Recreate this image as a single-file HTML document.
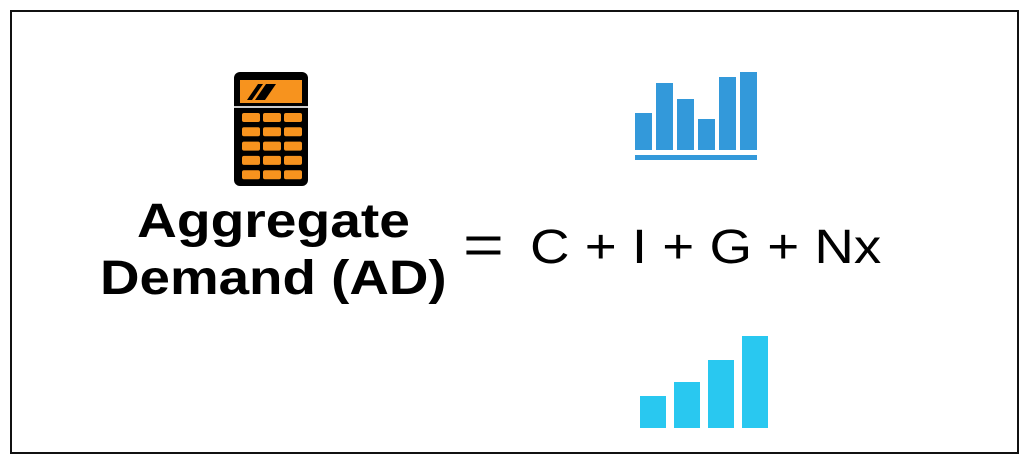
<!DOCTYPE html>
<html><head><meta charset="utf-8"><style>
body{margin:0;width:1024px;height:461px;background:#fff;position:relative;overflow:hidden;font-family:"Liberation Sans",Arial,sans-serif}
.frame{position:absolute;left:10px;top:10px;width:1005px;height:440px;border:2px solid #111}
.t{position:absolute;white-space:nowrap;color:#000;transform-origin:0 0}
</style></head><body>
<div class="frame"></div>
<svg width="1024" height="461" style="position:absolute;left:0;top:0">
<g>
<rect x="234" y="72" width="74" height="114" rx="6" fill="#000"/>
<rect x="240" y="80" width="62" height="23" fill="#f7931e"/>
<polygon points="247,100 258,84 263,84 252,100" fill="#000"/>
<polygon points="255,100 266,84 276,84 265,100" fill="#000"/>
<rect x="234" y="106" width="74" height="2" fill="#ccc"/>
<g id="keys"></g>
</g>
<g id="chart1"></g>
<g id="chart2"></g>
</svg>
<div class="t" style="left:137px;top:194px;font-weight:bold;font-size:48px;transform:scaleX(1.15)">Aggregate</div>
<div class="t" style="left:100px;top:251px;font-weight:bold;font-size:48px;transform:scaleX(1.14)">Demand (AD)</div>
<div class="t" style="left:463px;top:212px;font-size:56px;transform:scaleX(1.25)">=</div>
<div class="t" style="left:530px;top:220px;font-size:48px;transform:scaleX(1.14)">C + I + G + Nx</div>
<script>
const topValues=[37,67,51,31,73,78];
const bottomValues=[32,46,68,92];
const keys=document.getElementById('keys');
for(let r=0;r<5;r++)for(let c=0;c<3;c++){
 const k=document.createElementNS('http://www.w3.org/2000/svg','rect');
 k.setAttribute('x',242+c*21);k.setAttribute('y',113+r*14.3);k.setAttribute('width',18);k.setAttribute('height',9);k.setAttribute('rx',2);k.setAttribute('fill','#f7931e');
 
 
 keys.appendChild(k);}
const g1=document.getElementById('chart1');
topValues.forEach((v,i)=>{const r=document.createElementNS('http://www.w3.org/2000/svg','rect');
 r.setAttribute('x',635+i*21);r.setAttribute('y',150-v);r.setAttribute('width',17);r.setAttribute('height',v);r.setAttribute('fill','#3399da');
 
 
 g1.appendChild(r);});
const base=document.createElementNS('http://www.w3.org/2000/svg','rect');
base.setAttribute('x',635);base.setAttribute('y',155);base.setAttribute('width',122);base.setAttribute('height',5);base.setAttribute('fill','#3399da');


g1.appendChild(base);
const g2=document.getElementById('chart2');
bottomValues.forEach((v,i)=>{const r=document.createElementNS('http://www.w3.org/2000/svg','rect');
 r.setAttribute('x',640+i*34);r.setAttribute('y',428-v);r.setAttribute('width',26);r.setAttribute('height',v);r.setAttribute('fill','#29c8f0');
 
 
 g2.appendChild(r);});
</script>
</body></html>
